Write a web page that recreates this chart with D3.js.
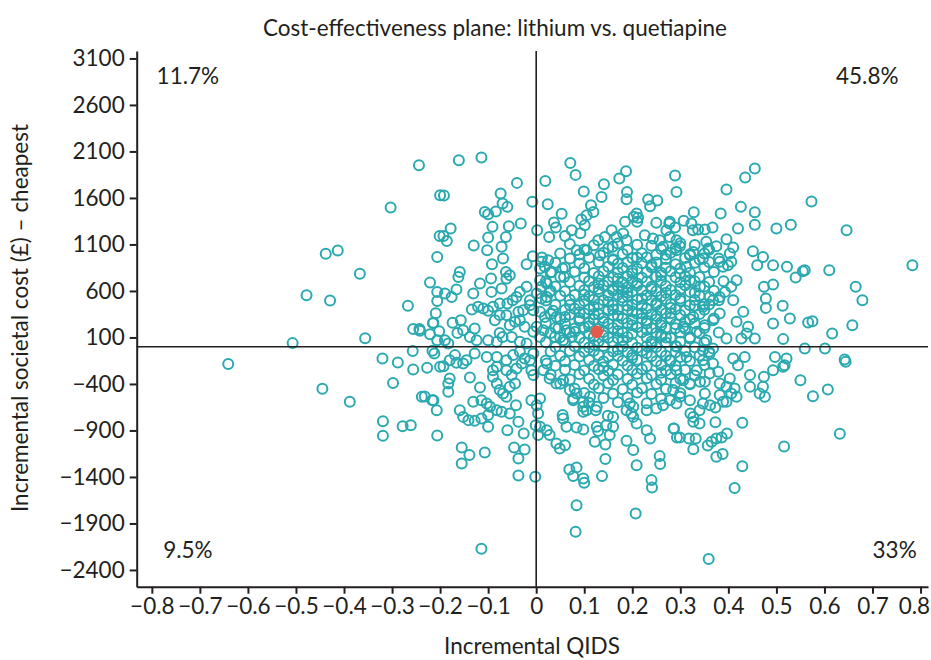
<!DOCTYPE html>
<html>
<head>
<meta charset="utf-8">
<script src="https://d3js.org/d3.v7.min.js"></script>
<style>
  body { margin: 0; background: #fff; }
  svg text { font-family: Lato, "Open Sans", sans-serif; fill: #231f20; }
</style>
</head>
<body>
<div id="chart"></div>
<script>
  // axis ticks
  var qidsTicks = [-0.8, -0.7, -0.6, -0.5, -0.4, -0.3, -0.2, -0.1, 0, 0.1, 0.2, 0.3, 0.4, 0.5, 0.6, 0.7, 0.8];
  var costTicks = [3100, 2600, 2100, 1600, 1100, 600, 100, -400, -900, -1400, -1900, -2400];

  // quadrant labels
  var quadrantLabels = [
    { text: "11.7%", x: -0.725, y: 2910 },
    { text: "45.8%", x: 0.689, y: 2910 },
    { text: "9.5%", x: -0.725, y: -2190 },
    { text: "33%", x: 0.746, y: -2190 }
  ];

  // mean of the simulations
  var meanPoint = [0.126, 160];

  // [incremental QIDS, incremental cost] - scattered points
  var outerNW = [
    [-0.244,1952],[-0.303,1497],[-0.438,999],[-0.413,1035],[-0.367,784],[-0.478,555],[-0.429,498],[-0.221,691],[-0.267,440],[-0.507,39],
    [-0.356,92],[-0.256,192],[-0.243,192],[-0.242,171],[-0.215,254],[-0.221,135],[-0.200,1630],[-0.201,1192],[-0.206,966],[-0.206,590],
    [-0.206,493],[-0.209,361],[-0.206,71],[-0.161,2006],[-0.114,2035],[-0.192,1626],[-0.040,1762],[-0.074,1648],[-0.070,1540],[-0.060,1504],
    [-0.107,1450],[-0.100,1425],[-0.084,1454],[-0.008,1558],[-0.178,1272],[-0.193,1192],[-0.186,1138],[-0.091,1289],[-0.057,1296],[-0.032,1325],
    [0.002,1253],[-0.100,1174],[-0.063,1181],[-0.130,1089],[-0.102,1038],[-0.072,1074],[-0.069,949],[-0.092,888],[-0.020,888],[-0.007,974],
    [-0.159,805],[-0.162,751],[-0.063,805],[-0.055,770],[-0.062,734],[-0.117,680],[-0.094,734],[-0.190,573],[-0.176,536],[-0.166,616],
    [-0.131,573],[-0.134,401],[-0.121,429],[-0.110,412],[-0.100,386],[-0.090,429],[-0.076,465],[-0.060,465],[-0.049,501],[-0.034,590],
    [-0.020,644],[-0.013,501],[-0.086,286],[-0.076,340],[-0.174,257],[-0.157,286],[-0.152,178],[-0.164,149],[-0.214,257],[-0.202,168],
    [-0.128,197],[-0.076,149],[-0.070,106],[-0.100,71],[-0.082,53],[-0.183,35],[-0.190,71],[-0.055,232],[-0.044,268],[-0.034,286],
    [-0.027,393],[-0.013,447],[-0.093,590],[-0.072,626],[-0.041,536],[-0.062,340],[-0.037,375],[-0.024,214],[-0.051,106],[-0.034,53],
    [-0.138,106],[-0.124,71],[-0.020,35]
  ];

  var outerNE = [
    [0.019,1783],[0.071,1977],[0.082,1848],[0.099,1669],[0.024,1533],[0.053,1429],[0.037,1336],[0.041,1282],[0.027,1181],[0.060,1192],
    [0.074,1253],[0.092,1221],[0.094,1368],[0.105,1415],[0.119,1450],[0.114,1522],[0.101,1307],[0.136,1611],[0.141,1748],[0.173,1809],
    [0.187,1888],[0.189,1665],[0.188,1587],[0.289,1842],[0.292,1665],[0.233,1583],[0.252,1573],[0.237,1511],[0.203,1397],[0.212,1386],
    [0.210,1343],[0.185,1343],[0.250,1332],[0.277,1325],[0.289,1282],[0.011,913],[0.008,842],[0.018,859],[0.032,805],[0.055,842],
    [0.058,751],[0.008,716],[0.011,644],[0.022,680],[0.028,590],[0.022,536],[0.011,519],[0.001,573],[-0.006,393],[0.008,375],
    [0.018,321],[0.035,386],[0.042,321],[0.001,214],[0.015,178],[0.008,106],[-0.006,160],[0.046,197],[0.039,106],[0.056,71],
    [0.074,106],[0.063,178],[0.084,1038],[0.105,1038],[0.129,1146],[0.143,1181],[0.157,1253],[0.167,1181],[0.181,1218],[0.188,1146],
    [0.159,1074],[0.133,985],[0.209,1433],[0.226,1200],[0.243,1164],[0.257,1146],[0.271,1253],[0.278,1181],[0.292,1146],[0.264,1074],
    [0.292,1038],[0.012,960],[0.025,931],
    [0.455,1917],[0.435,1820],[0.396,1691],[0.573,1562],[0.646,1253],[0.783,877],[0.426,1504],[0.455,1447],[0.455,1311],[0.384,1433],
    [0.328,1447],[0.307,1354],[0.323,1325],[0.326,1253],[0.337,1261],[0.351,1261],[0.367,1282],[0.420,1272],[0.500,1272],[0.530,1311],
    [0.278,1343],[0.396,1157],[0.354,1128],[0.375,1081],[0.358,1057],[0.410,1067],[0.403,1003],[0.406,913],[0.299,1081],[0.327,1020],
    [0.320,985],[0.347,949],[0.451,1028],[0.472,966],[0.460,877],[0.493,877],[0.522,859],[0.555,813],[0.559,823],[0.540,745],
    [0.610,823],[0.665,644],[0.679,501],[0.658,232],[0.616,143],[0.474,644],[0.493,670],[0.478,519],[0.478,418],[0.513,440],
    [0.528,304],[0.493,250],[0.514,82],[0.566,261],[0.575,275],[0.382,913],[0.389,859],[0.399,877],[0.417,716],[0.406,644],
    [0.393,590],[0.382,536],[0.368,501],[0.410,501],[0.431,375],[0.417,268],[0.441,214],[0.438,143],[0.455,89],[0.427,89],
    [0.396,89],[0.382,358],[0.368,286],[0.351,232],[0.334,160],[0.320,89],[0.354,71],[0.306,214],[0.327,321],[0.347,429],
    [0.361,536],[0.341,644],[0.320,716],[0.299,788],[0.313,859]
  ];

  var outerSW = [
    [-0.641,-185],[-0.320,-126],[-0.288,-169],[-0.256,-244],[-0.298,-391],[-0.445,-452],[-0.388,-592],[-0.319,-800],[-0.319,-958],[-0.278,-854],
    [-0.261,-843],[-0.238,-538],[-0.257,-47],[-0.216,-44],[-0.212,-72],[-0.227,-227],[-0.232,-534],[-0.216,-574],[-0.207,-682],[-0.200,-216],
    [-0.114,-2172],[-0.002,-1398],[-0.037,-1384],[-0.155,-1083],[-0.139,-1165],[-0.155,-1255],[-0.107,-1137],[-0.206,-954],[-0.046,-1083],[-0.024,-1104],
    [-0.037,-1201],[-0.060,-897],[-0.037,-807],[-0.026,-932],[-0.100,-861],[-0.001,-843],
    [-0.180,-341],[-0.183,-395],[-0.183,-485],[-0.138,-330],[-0.117,-438],[-0.193,-209],[-0.166,-173],[-0.152,-180],[-0.145,-144],[-0.214,-574],
    [-0.131,-592],[-0.114,-574],[-0.103,-610],[-0.096,-646],[-0.082,-682],[-0.072,-700],[-0.159,-682],[-0.152,-754],[-0.141,-789],[-0.128,-797],
    [-0.114,-771],[-0.100,-735],[-0.090,-323],[-0.082,-395],[-0.076,-466],[-0.069,-502],[-0.055,-431],[-0.044,-395],[-0.051,-305],[-0.062,-252],
    [-0.082,-216],[-0.090,-252],[-0.062,-538],[-0.042,-628],[-0.055,-717],[-0.010,-574],[-0.041,-233],[-0.030,-180],[-0.010,-252],[-0.006,-305],
    [-0.013,-144],[-0.006,-72],[-0.128,-72],[-0.103,-109],[-0.082,-109],[-0.062,-144],[-0.048,-90],[-0.034,-55],[-0.024,-126],[-0.180,-144],
    [-0.169,-90]
  ];

  var outerSE = [
    [0.082,-1990],[0.084,-1703],[0.207,-1792],[0.069,-1319],[0.084,-1297],[0.077,-1391],[0.098,-1416],[0.100,-1463],[0.137,-1391],[0.144,-1208],
    [0.209,-1273],[0.202,-1111],[0.188,-1011],[0.240,-1434],[0.241,-1513],[0.257,-1176],[0.258,-1262],[0.237,-986],[0.230,-897],[0.286,-878],
    [0.293,-975],[0.122,-1022],[0.144,-1050],[0.146,-843],[0.160,-861],[0.153,-950],[0.129,-907],[0.098,-889],[0.084,-868],[0.063,-861],
    [0.056,-771],[0.042,-1040],[0.049,-1093],[0.060,-1058],[0.028,-950],[0.022,-897],[0.004,-950],[0.008,-861],[0.055,-735],[0.149,-743],
    [0.160,-754],[0.126,-861],[0.124,-682],[0.098,-700],[0.098,-646],[0.077,-556],[0.198,-718],[0.202,-754],[0.209,-825],[0.001,-628],
    [0.008,-556],[0.004,-717],[0.015,-252],[0.028,-341],[0.042,-395],[0.022,-180],[0.056,-359],[0.070,-466],[0.084,-502],[0.098,-592],
    [0.112,-538],[0.126,-646],[0.105,-682],[0.077,-574],[0.188,-682],[0.195,-610],[0.202,-646],[0.230,-682],[0.250,-663],[0.264,-628],
    [0.278,-574],
    [0.359,-2281],[0.413,-1520],[0.429,-1284],[0.516,-1072],[0.632,-936],[0.429,-818],[0.375,-1183],[0.388,-1154],[0.357,-1061],[0.327,-1101],
    [0.318,-986],[0.332,-986],[0.365,-1022],[0.375,-986],[0.386,-975],[0.397,-932],[0.299,-975],[0.287,-878],[0.373,-811],[0.340,-825],
    [0.327,-807],[0.321,-717],[0.340,-682],[0.327,-754],[0.373,-653],[0.362,-628],[0.347,-610],[0.396,-592],[0.417,-538],[0.406,-502],
    [0.382,-520],[0.445,-431],[0.465,-502],[0.476,-538],[0.472,-431],[0.445,-305],[0.474,-323],[0.493,-252],[0.497,-109],[0.517,-198],
    [0.514,-216],[0.550,-359],[0.576,-531],[0.607,-459],[0.644,-162],[0.410,-126],[0.434,-109],[0.420,-198],[0.368,-180],[0.379,-270],
    [0.361,-287],[0.351,-377],[0.382,-395],[0.396,-431],[0.403,-341],[0.413,-448],[0.389,-592],[0.351,-502],[0.341,-377],[0.278,-144],
    [0.292,-252],[0.306,-359],[0.285,-466],[0.299,-538],[0.320,-395],[0.334,-252],[0.347,-144],[0.313,-109],[0.361,-72],[0.320,-574],
    [0.292,-610],[0.559,-18],[0.601,-18],[0.642,-137],[0.368,-18],[0.347,-37],[0.292,-1],[0.521,-126]
  ];

  // dense centre of the cloud (overlapping circles, estimated)
  var core = [
    [0.07,1105],[0.12,1092],[0.17,1110],[0.21,1098],[0.24,1085],[0.3,1112],[0.33,1095],
    [0.1,1046],[0.15,1058],[0.19,1040],[0.26,1052],[0.29,1061],[0.36,1044],
    [0.05,1004],[0.09,992],[0.14,1012],[0.18,998],[0.22,1006],[0.25,989],[0.28,1010],[0.32,995],[0.35,1003],
    [0.07,948],[0.11,957],[0.16,940],[0.2,953],[0.23,962],[0.27,944],[0.31,955],[0.34,938],[0.38,950],
    [0.04,903],[0.09,895],[0.13,908],[0.17,892],[0.19,912],[0.22,899],[0.25,905],[0.29,888],[0.33,902],[0.36,910],
    [0.06,852],[0.1,845],[0.15,860],[0.18,848],[0.21,838],[0.24,856],[0.27,849],[0.3,842],[0.35,855],
    [0.03,798],[0.08,806],[0.12,792],[0.14,811],[0.17,800],[0.2,789],[0.23,804],[0.26,797],[0.28,812],[0.32,795],[0.37,803],
    [0.05,752],[0.1,744],[0.13,758],[0.16,748],[0.19,760],[0.22,742],[0.25,753],[0.29,746],[0.31,757],[0.34,749],
    [0.02,702],[0.07,695],[0.11,708],[0.15,698],[0.18,690],[0.2,706],[0.23,699],[0.26,711],[0.3,694],[0.33,703],[0.36,697],[0.39,705],
    [0.04,648],[0.09,655],[0.12,642],[0.14,659],[0.17,651],[0.19,640],[0.21,657],[0.24,645],[0.27,653],[0.31,660],[0.35,647],
    [0.03,603],[0.06,596],[0.1,608],[0.13,592],[0.16,601],[0.18,611],[0.2,594],[0.22,605],[0.25,598],[0.28,609],[0.32,590],[0.37,602],
    [0.05,548],[0.08,556],[0.11,543],[0.15,552],[0.17,560],[0.19,545],[0.23,553],[0.26,541],[0.29,557],[0.34,549],
    [0.02,498],[0.07,506],[0.1,493],[0.12,509],[0.14,500],[0.18,492],[0.21,505],[0.24,497],[0.27,511],[0.3,495],[0.33,503],[0.38,499],
    [0.04,452],[0.09,445],[0.13,458],[0.16,447],[0.2,455],[0.22,441],[0.25,450],[0.28,459],[0.32,446],[0.36,453],
    [0.06,396],[0.08,408],[0.11,402],[0.15,391],[0.17,405],[0.19,398],[0.23,410],[0.26,394],[0.29,403],[0.31,390],[0.35,399],
    [0.03,352],[0.07,345],[0.1,357],[0.13,348],[0.16,340],[0.21,355],[0.24,346],[0.27,359],[0.3,342],[0.34,351],
    [0.05,298],[0.09,306],[0.12,293],[0.14,309],[0.18,301],[0.2,290],[0.22,304],[0.25,297],[0.28,310],[0.32,295],[0.37,303],
    [0.02,252],[0.06,245],[0.11,258],[0.15,247],[0.17,240],[0.19,255],[0.23,249],[0.26,260],[0.29,243],[0.33,251],
    [0.04,203],[0.08,196],[0.1,208],[0.13,192],[0.16,201],[0.21,210],[0.24,198],[0.27,205],[0.31,193],[0.35,202],
    [0.03,148],[0.07,155],[0.11,143],[0.14,158],[0.18,150],[0.2,141],[0.22,156],[0.25,147],[0.3,153],[0.34,145],[0.38,152],
    [0.05,102],[0.09,95],[0.12,108],[0.15,98],[0.17,91],[0.19,105],[0.23,99],[0.26,110],[0.28,94],[0.32,103],
    [0.02,48],[0.06,55],[0.1,43],[0.13,58],[0.16,50],[0.2,41],[0.24,56],[0.27,47],[0.3,53],[0.35,45],
    [0.04,-3],[0.08,6],[0.11,-8],[0.14,9],[0.18,1],[0.21,-10],[0.23,5],[0.25,-4],[0.29,8],[0.33,-6],
    [0.03,-52],[0.07,-45],[0.1,-57],[0.12,-42],[0.16,-50],[0.19,-60],[0.22,-44],[0.26,-53],[0.31,-47],[0.36,-55],
    [0.05,-98],[0.09,-105],[0.13,-92],[0.15,-108],[0.17,-100],[0.2,-90],[0.24,-103],[0.27,-96],[0.3,-110],[0.34,-94],
    [0.02,-148],[0.06,-155],[0.11,-143],[0.14,-158],[0.18,-150],[0.21,-141],[0.25,-156],[0.28,-147],[0.32,-153],
    [0.04,-203],[0.08,-196],[0.12,-208],[0.16,-192],[0.19,-201],[0.23,-210],[0.26,-198],[0.29,-205],[0.35,-195],
    [0.06,-248],[0.1,-255],[0.13,-243],[0.15,-258],[0.2,-250],[0.22,-241],[0.27,-256],[0.31,-247],
    [0.03,-302],[0.09,-295],[0.14,-308],[0.17,-298],[0.21,-290],[0.24,-305],[0.28,-297],[0.33,-310],
    [0.07,-352],[0.11,-345],[0.16,-358],[0.19,-348],[0.23,-340],[0.26,-355],[0.3,-347],
    [0.05,-398],[0.12,-405],[0.15,-392],[0.2,-408],[0.25,-400],[0.29,-390],[0.32,-403],
    [0.08,-452],[0.13,-445],[0.18,-458],[0.22,-447],[0.27,-455],
    [0.1,-498],[0.16,-505],[0.21,-493],[0.24,-509],[0.3,-500],
    [0.14,-552],[0.19,-545],[0.26,-558],
    [0.11,-603],[0.17,-596],[0.23,-608]
  ];

  // the most crowded part, where the circles merge into a solid patch
  var coreExtra = [
    [0.16,620],[0.19,580],[0.22,520],[0.25,470],[0.28,420],[0.2,380],[0.17,330],[0.23,280],[0.26,230],[0.14,270],
    [0.12,430],[0.09,370],[0.15,480],[0.18,530],[0.21,680],[0.24,620],[0.27,580],[0.3,520],[0.26,770],[0.2,820],
    [0.17,730],[0.13,680],[0.11,220],[0.08,160],[0.14,120],[0.17,170],[0.2,230],[0.23,180],[0.26,130],[0.29,200],
    [0.31,270],[0.33,440],[0.22,360],[0.19,440],[0.16,400],[0.25,330],[0.28,360],[0.12,350],[0.09,280],[0.06,320],
    [0.07,450],[0.1,560],[0.13,620],[0.16,930],[0.24,880],[0.27,990],[0.21,960],[0.3,620],[0.33,580],[0.35,460],
    [0.2,-120],[0.23,-70],[0.17,-30],[0.14,-220],[0.26,-280],[0.29,-60],[0.12,20],[0.18,70],[0.24,30],[0.27,100]
  ];

  var width = 931, height = 660;
  var ink = "#231f20";
  var teal = "#2aa9b0";
  var fontSize = "22.5px";

  var svg = d3.select("#chart").append("svg")
    .attr("width", width)
    .attr("height", height);

  var x = d3.scaleLinear().domain([-0.8315, 0.8155]).range([136.7, 928]);
  var y = d3.scaleLinear().domain([-2580, 3180]).range([586.7, 51]);

  // title
  svg.append("text")
    .attr("x", 495)
    .attr("y", 36)
    .attr("text-anchor", "middle")
    .style("font-size", fontSize)
    .text("Cost-effectiveness plane: lithium vs. quetiapine");

  // points
  var allPoints = outerNW.concat(outerNE, outerSW, outerSE, core, coreExtra);
  svg.append("g")
    .selectAll("circle")
    .data(allPoints)
    .join("circle")
    .attr("cx", d => x(d[0]))
    .attr("cy", d => y(d[1]))
    .attr("r", 5)
    .attr("fill", "none")
    .attr("stroke", teal)
    .attr("stroke-width", 2);

  // zero lines
  svg.append("line")
    .attr("x1", x.range()[0]).attr("x2", x.range()[1])
    .attr("y1", y(0)).attr("y2", y(0))
    .attr("stroke", ink).attr("stroke-width", 1.6);
  svg.append("line")
    .attr("x1", x(0)).attr("x2", x(0))
    .attr("y1", y.range()[0]).attr("y2", y.range()[1])
    .attr("stroke", ink).attr("stroke-width", 1.6);

  // mean
  svg.append("circle")
    .attr("cx", x(meanPoint[0]))
    .attr("cy", y(meanPoint[1]))
    .attr("r", 6.3)
    .attr("fill", "#e55b4b");

  // axes
  var fmtX = d => d === 0 ? "0" : d3.format(".1f")(d);
  var xAxis = svg.append("g")
    .attr("transform", "translate(0," + y.range()[0] + ")")
    .call(d3.axisBottom(x).tickValues(qidsTicks).tickFormat(fmtX).tickSize(7).tickSizeOuter(0).tickPadding(4));
  var yAxis = svg.append("g")
    .attr("transform", "translate(" + x.range()[0] + ",0)")
    .call(d3.axisLeft(y).tickValues(costTicks).tickFormat(d3.format("d")).tickSize(7).tickSizeOuter(0).tickPadding(5));

  [xAxis, yAxis].forEach(function (a) {
    a.select(".domain").attr("stroke", ink).attr("stroke-width", 2);
    a.selectAll(".tick line").attr("stroke", ink).attr("stroke-width", 2);
    a.selectAll(".tick text")
      .style("font-family", "Lato, sans-serif")
      .style("font-size", fontSize)
      .attr("fill", ink);
  });

  // last x label sits inside the frame, as in the original
  xAxis.selectAll(".tick text")
    .filter(d => d === 0.8)
    .attr("text-anchor", "end")
    .attr("dx", 9);

  // axis titles
  svg.append("text")
    .attr("x", 532)
    .attr("y", 654)
    .attr("text-anchor", "middle")
    .style("font-size", fontSize)
    .text("Incremental QIDS");

  svg.append("text")
    .attr("transform", "translate(28,318) rotate(-90)")
    .attr("text-anchor", "middle")
    .style("font-size", fontSize)
    .text("Incremental societal cost (£) – cheapest");

  // quadrant percentages
  svg.append("g")
    .selectAll("text")
    .data(quadrantLabels)
    .join("text")
    .attr("x", d => x(d.x))
    .attr("y", d => y(d.y))
    .attr("dy", "0.35em")
    .attr("text-anchor", "middle")
    .style("font-size", fontSize)
    .text(d => d.text);
</script>
</body>
</html>
